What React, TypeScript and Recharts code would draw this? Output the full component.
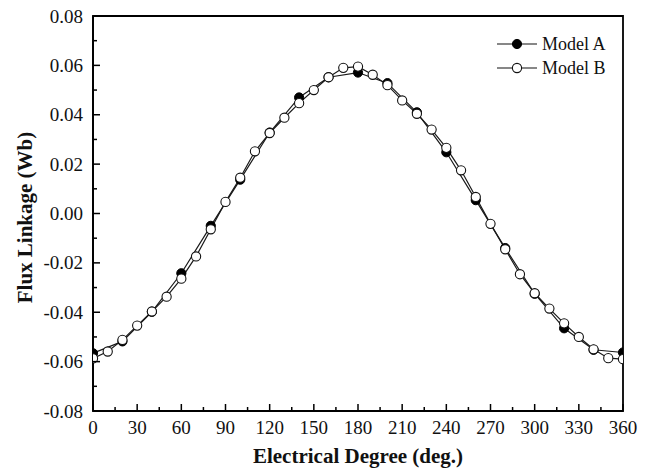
import React from 'react';
import { LineChart, Line, XAxis, YAxis, ReferenceArea } from 'recharts';

const degreesA = [0, 20, 40, 60, 80, 100, 120, 140, 160, 180, 200, 220, 240, 260, 280, 300, 320, 340, 360];
const fluxA = [-0.0566, -0.0518, -0.0398, -0.0242, -0.005, 0.0137, 0.0328, 0.047, 0.0552, 0.0571, 0.0528, 0.041, 0.0248, 0.0054, -0.014, -0.0325, -0.0465, -0.0552, -0.0563];

const degreesB = [0, 10, 20, 30, 40, 50, 60, 70, 80, 90, 100, 110, 120, 130, 140, 150, 160, 170, 180, 190, 200, 210, 220, 230, 240, 250, 260, 270, 280, 290, 300, 310, 320, 330, 340, 350, 360];
const fluxB = [-0.0587, -0.0559, -0.0512, -0.0454, -0.0397, -0.0337, -0.0264, -0.0174, -0.0064, 0.0047, 0.0145, 0.0252, 0.0326, 0.0388, 0.0447, 0.05, 0.0552, 0.059, 0.0595, 0.0562, 0.052, 0.0458, 0.0404, 0.034, 0.0266, 0.0175, 0.0067, -0.0042, -0.0145, -0.0246, -0.0323, -0.0385, -0.0445, -0.05, -0.055, -0.0586, -0.059];

const xTicks = [0, 15, 30, 45, 60, 75, 90, 105, 120, 135, 150, 165, 180, 195, 210, 225, 240, 255, 270, 285, 300, 315, 330, 345, 360];
const yTicks = [-0.08, -0.07, -0.06, -0.05, -0.04, -0.03, -0.02, -0.01, 0, 0.01, 0.02, 0.03, 0.04, 0.05, 0.06, 0.07, 0.08];

const seriesNames = ['Model A', 'Model B'];

const dataA = degreesA.map((d, i) => ({ deg: d, flux: fluxA[i] }));
const dataB = degreesB.map((d, i) => ({ deg: d, flux: fluxB[i] }));

const FONT = '"Liberation Serif", "Times New Roman", Times, serif';

const XTick = (props: any) => {
  const { x, y, payload } = props;
  const v = payload.value;
  const major = v % 30 === 0;
  return (
    <g>
      <line x1={x} x2={x} y1={y} y2={y - (major ? 7 : 4)} stroke="#000" strokeWidth={1.5} />
      {major && (
        <text x={x} y={y + 23} textAnchor="middle" style={{ fontFamily: FONT }} fontSize={19} fill="#111">
          {v}
        </text>
      )}
    </g>
  );
};

const YTick = (props: any) => {
  const { x, y, payload } = props;
  const v = payload.value;
  const major = Math.round(v * 100) % 2 === 0;
  return (
    <g>
      <line x1={x} x2={x + (major ? 7 : 4)} y1={y} y2={y} stroke="#000" strokeWidth={1.5} />
      {major && (
        <text x={x - 10} y={y + 6.5} textAnchor="end" style={{ fontFamily: FONT }} fontSize={19} fill="#111">
          {v.toFixed(2)}
        </text>
      )}
    </g>
  );
};

const FilledDot = (props: any) => {
  const { cx, cy } = props;
  if (cx == null || cy == null) return null;
  return <circle cx={cx} cy={cy} r={4.6} fill="#000" stroke="#000" strokeWidth={1} />;
};

const OpenDot = (props: any) => {
  const { cx, cy } = props;
  if (cx == null || cy == null) return null;
  return <circle cx={cx} cy={cy} r={4.6} fill="#fff" stroke="#111" strokeWidth={1.1} />;
};

const LegendBox = () => (
  <svg width={130} height={56} style={{ position: 'absolute', left: 494, top: 30 }}>
    {seriesNames.map((name, i) => (
      <g key={name} transform={`translate(0, ${14 + i * 24})`}>
        <line x1={3} x2={43} y1={0} y2={0} stroke="#111" strokeWidth={1.2} />
        {i === 0 ? (
          <circle cx={23} cy={0} r={4.6} fill="#000" stroke="#000" />
        ) : (
          <circle cx={23} cy={0} r={4.6} fill="#fff" stroke="#111" strokeWidth={1.1} />
        )}
        <text x={48} y={6} style={{ fontFamily: FONT }} fontSize={18} fill="#111">
          {name}
        </text>
      </g>
    ))}
  </svg>
);

export default function App() {
  return (
    <div style={{ position: 'relative', width: 652, height: 470, marginTop: -8, marginLeft: -8, background: '#fff' }}>
      <LineChart width={652} height={470} margin={{ top: 16, right: 29, bottom: 0, left: 0 }}>
        <XAxis
          type="number"
          dataKey="deg"
          domain={[0, 360]}
          allowDataOverflow
          ticks={xTicks}
          interval={0}
          tickSize={0}
          tickMargin={0}
          tickLine={false}
          tick={<XTick />}
          height={59}
          axisLine={{ stroke: '#000', strokeWidth: 1.8 }}
          allowDuplicatedCategory={false}
          label={{
            content: (p: any) => {
              const vb = p.viewBox;
              return (
                <text x={vb.x + vb.width / 2} y={vb.y + 52} textAnchor="middle" style={{ fontFamily: FONT }} fontWeight="bold" fontSize={21} fill="#111">
                  Electrical Degree (deg.)
                </text>
              );
            },
          }}
        />
        <YAxis
          type="number"
          domain={[-0.08, 0.08]}
          allowDataOverflow
          ticks={yTicks}
          interval={0}
          tickSize={0}
          tickMargin={0}
          tickLine={false}
          tick={<YTick />}
          width={93}
          axisLine={{ stroke: '#000', strokeWidth: 1.8 }}
          label={{
            content: (p: any) => {
              const vb = p.viewBox;
              const cx = vb.x + 32;
              const cy = vb.y + vb.height / 2 + 4;
              return (
                <text x={cx} y={cy} transform={`rotate(-90 ${cx} ${cy})`} textAnchor="middle" style={{ fontFamily: FONT }} fontWeight="bold" fontSize={21} fill="#111">
                  Flux Linkage (Wb)
                </text>
              );
            },
          }}
        />
        <Line
          data={dataA}
          dataKey="flux"
          name={seriesNames[0]}
          type="linear"
          stroke="#1a1a1a"
          strokeWidth={1.2}
          dot={<FilledDot />}
          activeDot={false}
          isAnimationActive={false}
        />
        <Line
          data={dataB}
          dataKey="flux"
          name={seriesNames[1]}
          type="linear"
          stroke="#1a1a1a"
          strokeWidth={1.2}
          dot={<OpenDot />}
          activeDot={false}
          isAnimationActive={false}
        />
        <ReferenceArea x1={0} x2={360} y1={-0.08} y2={0.08} fill="none" stroke="#000" strokeWidth={1.8} fillOpacity={0} />
      </LineChart>
      <LegendBox />
    </div>
  );
}
